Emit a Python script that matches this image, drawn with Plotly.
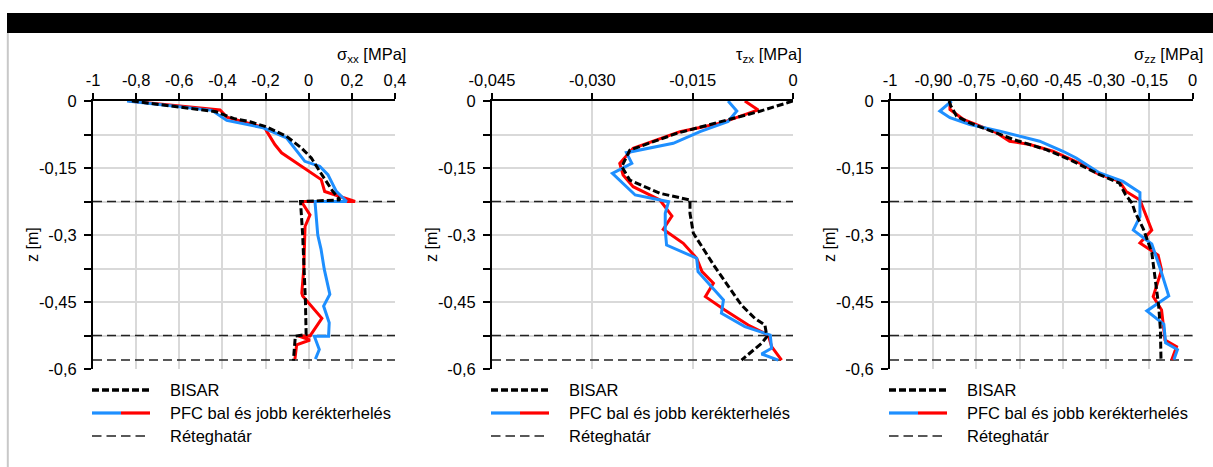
import plotly.graph_objects as go

# ---------------- DATA ----------------
layer_z = [-0.225, -0.525, -0.58]

# Panel 1: sigma_xx
bisar_xx_z = [0, -0.012, -0.024, -0.039, -0.0465, -0.058, -0.079, -0.105, -0.1275, -0.1575, -0.18, -0.2025, -0.2216,
              -0.225, -0.3, -0.3765, -0.4515, -0.5228, -0.5265, -0.581]
bisar_xx = [-0.82, -0.62, -0.43, -0.349, -0.272, -0.195, -0.103, -0.034, 0.012, 0.051, 0.082, 0.112, 0.145,
            -0.038, -0.028, -0.02, -0.015, -0.012, -0.062, -0.071]
red_xx_z = [0, -0.019, -0.020, -0.036, -0.06, -0.0675, -0.0975, -0.116, -0.146, -0.176, -0.2025, -0.225, -0.225,
            -0.255, -0.281, -0.324, -0.3765, -0.43, -0.4365, -0.4866, -0.526, -0.526, -0.535, -0.546, -0.578]
red_xx = [-0.834, -0.449, -0.411, -0.38, -0.203, -0.195, -0.157, -0.126, -0.034, 0.058, 0.074, 0.215, -0.034,
          0.006, -0.017, -0.02, -0.023, -0.032, -0.028, 0.061, 0.006, -0.049, 0.006, -0.056, -0.064]
blue_xx_z = [0, -0.021, -0.0435, -0.06, -0.0825, -0.105, -0.135, -0.146, -0.165, -0.2025, -0.225, -0.225, -0.2565,
             -0.3, -0.3315, -0.3765, -0.4328, -0.459, -0.4965, -0.5265, -0.5265, -0.5565, -0.578]
blue_xx = [-0.842, -0.449, -0.38, -0.211, -0.103, -0.065, -0.018, 0.051, 0.089, 0.128, 0.176, 0.029, 0.034,
           0.042, 0.057, 0.072, 0.098, 0.069, 0.095, 0.092, 0.026, 0.049, 0.031]

# Panel 2: tau_zx
bisar_zx_z = [0, -0.024, -0.0725, -0.11, -0.147, -0.177, -0.2067, -0.2216, -0.2515, -0.296, -0.371, -0.457,
              -0.4866, -0.5015, -0.5276, -0.5425, -0.58]
bisar_zx = [0, -0.0052, -0.0174, -0.0244, -0.0256, -0.0244, -0.0199, -0.0154, -0.0154, -0.0149, -0.0117, -0.0077,
            -0.0057, -0.0042, -0.0039, -0.0047, -0.0077]
red_zx_z = [0, -0.02, -0.05, -0.0687, -0.106, -0.1395, -0.1657, -0.1918, -0.2216, -0.2574, -0.2872, -0.3186, -0.352,
            -0.382, -0.408, -0.438, -0.468, -0.5015, -0.524, -0.55, -0.58]
red_zx = [-0.0072, -0.0052, -0.0109, -0.0169, -0.0239, -0.0259, -0.0254, -0.0239, -0.0199, -0.0181, -0.0194, -0.0164,
          -0.0144, -0.0136, -0.0119, -0.0131, -0.0102, -0.0067, -0.0037, -0.0032, -0.0017]
blue_zx_z = [0, -0.0224, -0.046, -0.0687, -0.0947, -0.1157, -0.1395, -0.1619, -0.2104, -0.2254, -0.2514, -0.2888,
             -0.3224, -0.352, -0.382, -0.4455, -0.4753, -0.5052, -0.524, -0.5536, -0.5664, -0.58]
blue_zx = [-0.0097, -0.0084, -0.0097, -0.0139, -0.0179, -0.0249, -0.0241, -0.027, -0.0236, -0.0186, -0.0191, -0.0191,
           -0.0189, -0.0144, -0.0142, -0.0104, -0.0107, -0.0072, -0.0034, -0.0032, -0.0047, -0.0022]

# Panel 3: sigma_zz
bisar_zz_z = [0, -0.011, -0.034, -0.049, -0.086, -0.109, -0.131, -0.165, -0.184, -0.21, -0.229, -0.249, -0.2865,
              -0.339, -0.399, -0.459, -0.5115, -0.579]
bisar_zz = [-0.845, -0.839, -0.819, -0.773, -0.623, -0.508, -0.427, -0.323, -0.254, -0.233, -0.21, -0.2, -0.171,
            -0.142, -0.13, -0.118, -0.112, -0.11]
red_zz_z = [0, -0.019, -0.041, -0.071, -0.09, -0.0975, -0.1125, -0.146, -0.161, -0.18, -0.2025, -0.2216, -0.289,
            -0.318, -0.345, -0.378, -0.438, -0.468, -0.535, -0.55, -0.58]
red_zz = [-0.842, -0.842, -0.796, -0.681, -0.635, -0.565, -0.485, -0.369, -0.335, -0.254, -0.231, -0.183, -0.142,
          -0.183, -0.12, -0.108, -0.137, -0.108, -0.096, -0.056, -0.073]
blue_zz_z = [0, -0.0225, -0.0375, -0.0525, -0.0675, -0.09, -0.1125, -0.1275, -0.161, -0.18, -0.205, -0.259, -0.289,
             -0.32, -0.3765, -0.4365, -0.47, -0.5, -0.5415, -0.5565, -0.579]
blue_zz = [-0.836, -0.877, -0.842, -0.773, -0.669, -0.531, -0.45, -0.404, -0.323, -0.242, -0.183, -0.183, -0.206,
           -0.142, -0.112, -0.083, -0.159, -0.1, -0.094, -0.053, -0.065]

# Axis ticks
x1_ticks = [-1, -0.8, -0.6, -0.4, -0.2, 0, 0.2, 0.4]
x1_text = ["-1", "-0,8", "-0,6", "-0,4", "-0,2", "0", "0,2", "0,4"]
x2_ticks = [-0.045, -0.030, -0.015, 0]
x2_text = ["-0,045", "-0,030", "-0,015", "0"]
x3_ticks = [-1.05, -0.9, -0.75, -0.6, -0.45, -0.3, -0.15, 0]
x3_text = ["-1", "-0,90", "-0,75", "-0,60", "-0,45", "-0,30", "-0,15", "0"]
y_ticks = [0, -0.15, -0.3, -0.45, -0.6]
y_text = ["0", "-0,15", "-0,3", "-0,45", "-0,6"]
y_minor = [-0.075, -0.225, -0.375, -0.525]

titles = ["σ<sub>xx</sub> [MPa]", "τ<sub>zx</sub> [MPa]", "σ<sub>zz</sub> [MPa]"]
legend_labels = ["BISAR", "PFC bal és jobb kerékterhelés", "Réteghatár"]

# ---------------- STYLE / LAYOUT ----------------
W, H = 1213, 467
FONT = "Liberation Sans, Arial, sans-serif"
BLUE = "#1E8FFF"
RED = "#FF0000"
GRID = "#D9D9D9"
TICKFONT = dict(family=FONT, size=16.5, color="black")


def px(x):
    return x / W


def py(y):
    return 1 - y / H


panels = [
    dict(xl=93, xr=395, rng=[-1, 0.4], ticks=x1_ticks, text=x1_text,
         bis=(bisar_xx, bisar_xx_z), red=(red_xx, red_xx_z), blue=(blue_xx, blue_xx_z), title_r=408),
    dict(xl=492, xr=793, rng=[-0.045, 0], ticks=x2_ticks, text=x2_text,
         bis=(bisar_zx, bisar_zx_z), red=(red_zx, red_zx_z), blue=(blue_zx, blue_zx_z), title_r=804),
    dict(xl=890, xr=1192.7, rng=[-1.05, 0], ticks=x3_ticks, text=x3_text,
         bis=(bisar_zz, bisar_zz_z), red=(red_zz, red_zz_z), blue=(blue_zz, blue_zz_z), title_r=1205),
]

y_top, y_bot = 101, 369

fig = go.Figure()
shapes = []
annotations = []

for i, p in enumerate(panels):
    sfx = "" if i == 0 else str(i + 1)
    xa, ya = "x" + sfx, "y" + sfx
    bx, by = [], []
    for z in layer_z:
        bx += [p["rng"][0], p["rng"][1], None]
        by += [z, z, None]
    fig.add_trace(go.Scatter(x=bx, y=by, mode="lines", xaxis=xa, yaxis=ya, showlegend=False,
                             line=dict(color="#222222", width=1.4, dash="9px,5px")))
    fig.add_trace(go.Scatter(x=p["red"][0], y=p["red"][1], mode="lines", xaxis=xa, yaxis=ya, showlegend=False,
                             line=dict(color=RED, width=3)))
    fig.add_trace(go.Scatter(x=p["blue"][0], y=p["blue"][1], mode="lines", xaxis=xa, yaxis=ya, showlegend=False,
                             line=dict(color=BLUE, width=3)))
    fig.add_trace(go.Scatter(x=p["bis"][0], y=p["bis"][1], mode="lines", xaxis=xa, yaxis=ya, showlegend=False,
                             line=dict(color="black", width=3, dash="7px,3px")))

    fig.update_layout(**{
        "xaxis" + sfx: dict(domain=[px(p["xl"]), px(p["xr"])], range=p["rng"], side="top", anchor=ya,
                            tickvals=p["ticks"], ticktext=p["text"], showline=True, linecolor="black",
                            linewidth=2, ticks="outside", ticklen=6, tickwidth=2, tickcolor="black",
                            showgrid=True, gridcolor=GRID, gridwidth=2, zeroline=False, automargin=False,
                            tickfont=TICKFONT),
        "yaxis" + sfx: dict(domain=[py(y_bot), py(y_top)], range=[-0.6, 0], anchor=xa,
                            tickvals=y_ticks, ticktext=y_text, showline=True, linecolor="black",
                            linewidth=2, ticks="outside", ticklen=7, tickwidth=2, tickcolor="black",
                            showgrid=True, gridcolor=GRID, gridwidth=2, zeroline=False, automargin=False,
                            ticklabelstandoff=4,
                            minor=dict(tickvals=y_minor, ticks="outside", ticklen=7, tickwidth=2,
                                       tickcolor="black", showgrid=True, gridcolor=GRID, gridwidth=2),
                            tickfont=TICKFONT),
    })

    annotations.append(dict(x=px(p["title_r"]), y=py(55), xref="paper", yref="paper", text=titles[i],
                            showarrow=False, xanchor="right", yanchor="middle",
                            font=dict(family=FONT, size=16.5, color="black")))
    annotations.append(dict(x=px(p["xl"] - 60), y=py(245), xref="paper", yref="paper", text="z [m]",
                            textangle=-90, showarrow=False, xanchor="center", yanchor="middle",
                            font=dict(family=FONT, size=16, color="black")))

    lx0 = p["xl"] - 1
    rows = [390, 413, 436]
    shapes.append(dict(type="line", xref="paper", yref="paper", x0=px(lx0), x1=px(lx0 + 58),
                       y0=py(rows[0]), y1=py(rows[0]), line=dict(color="black", width=3.5, dash="7px,3px")))
    shapes.append(dict(type="line", xref="paper", yref="paper", x0=px(lx0), x1=px(lx0 + 29),
                       y0=py(rows[1]), y1=py(rows[1]), line=dict(color=BLUE, width=3.2)))
    shapes.append(dict(type="line", xref="paper", yref="paper", x0=px(lx0 + 29), x1=px(lx0 + 58),
                       y0=py(rows[1]), y1=py(rows[1]), line=dict(color=RED, width=3.2)))
    shapes.append(dict(type="line", xref="paper", yref="paper", x0=px(lx0), x1=px(lx0 + 58),
                       y0=py(rows[2]), y1=py(rows[2]), line=dict(color="#222222", width=1.4, dash="9.5px,5px")))
    for r, lab in zip(rows, legend_labels):
        annotations.append(dict(x=px(p["xl"] + 75), y=py(r), xref="paper", yref="paper", text=lab,
                                showarrow=False, xanchor="left", yanchor="middle",
                                font=dict(family=FONT, size=16.5, color="black")))

shapes.append(dict(type="rect", xref="paper", yref="paper", x0=px(7), x1=1, y0=py(33), y1=py(13),
                   fillcolor="black", line=dict(width=0), layer="above"))
shapes.append(dict(type="line", xref="paper", yref="paper", x0=px(7.8), x1=px(7.8), y0=py(33), y1=0,
                   line=dict(color="#C8C8C8", width=2)))

fig.update_layout(template="none", width=W, height=H, margin=dict(l=0, r=0, t=0, b=0, pad=0, autoexpand=False),
                  paper_bgcolor="white", plot_bgcolor="white", showlegend=False,
                  shapes=shapes, annotations=annotations, font=dict(family=FONT, size=16, color="black"))

fig.write_html("out.html", config={"displayModeBar": False},
               post_script="document.body.style.margin='0';document.body.style.overflow='hidden';")
